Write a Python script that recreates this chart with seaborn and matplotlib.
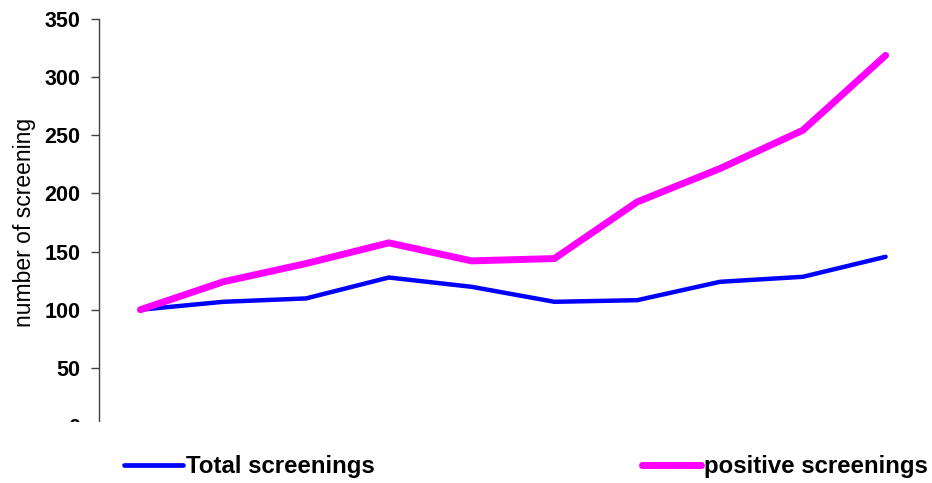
import matplotlib
matplotlib.use("Agg")
import matplotlib.pyplot as plt
from matplotlib.patches import Rectangle
import pandas as pd
import seaborn as sns

# Index values (first period = 100)
periods = list(range(1, 11))
total_screenings = [100, 106.8, 109.7, 127.7, 119.7, 106.8, 108.2, 124.0, 128.3, 145.5]
positive_screenings = [100, 124.0, 139.7, 157.5, 142.0, 144.0, 192.7, 221.4, 254.3, 318.7]
series_names = ["Total screenings", "positive screenings"]
y_ticks = [0, 50, 100, 150, 200, 250, 300, 350]

df = pd.DataFrame({
    "period": periods * 2,
    "value": total_screenings + positive_screenings,
    "series": [series_names[0]] * len(periods) + [series_names[1]] * len(periods),
})

sns.set_style("white")
plt.rcParams["font.family"] = ["Liberation Sans", "DejaVu Sans"]
plt.rcParams.update({"text.color": "black", "axes.labelcolor": "black",
                     "ytick.color": "black", "xtick.color": "black"})

fig = plt.figure(figsize=(9.32, 4.83), dpi=100)
ax = fig.add_axes([99 / 932, 1 - 426 / 483, 828 / 932, 407 / 483])

palette = {series_names[0]: "#0000FF", series_names[1]: "#FF00FF"}
sns.lineplot(data=df, x="period", y="value", hue="series", palette=palette,
             ax=ax, legend=False, sort=False)
widths = [3.2, 5.0]
for line, lw in zip(ax.lines, widths):
    line.set_linewidth(lw)
    line.set_solid_capstyle("round")
    line.set_solid_joinstyle("round")
    line.set_clip_on(False)

ax.set_xlim(0.5, 10.5)
ax.set_ylim(0, 350)
ax.set_yticks(y_ticks)
ax.set_yticklabels([str(t) for t in y_ticks], fontsize=15.5, fontweight="bold")
ax.set_xticks([])
ax.set_xlabel("")
ax.set_ylabel("number of screening", fontsize=16.5, labelpad=6)
ax.tick_params(axis="y", direction="out", length=5.8, width=1, color="#404040",
               left=True, pad=7.5)
for side in ["top", "right", "bottom"]:
    ax.spines[side].set_visible(False)
ax.spines["left"].set_color("#404040")
ax.spines["left"].set_linewidth(1)

# Bottom of the value axis is cut off
fig.patches.append(Rectangle((0, 0.07), 0.125, 1 - 422 / 483 - 0.07,
                             transform=fig.transFigure, facecolor="white",
                             edgecolor="none", zorder=10))

handles = [plt.Line2D([], [], color=palette[series_names[0]], lw=3.4, solid_capstyle="round"),
           plt.Line2D([], [], color=palette[series_names[1]], lw=5.0, solid_capstyle="round")]
fig.legend(handles, series_names, loc="center left",
           bbox_to_anchor=(124 / 932, 1 - 467 / 483), ncol=2, frameon=False,
           prop={"size": 17.3, "weight": "bold"}, handlelength=2.45,
           handletextpad=0.13, columnspacing=11.13, borderpad=0, borderaxespad=0)

fig.savefig("out.png", dpi=100)
